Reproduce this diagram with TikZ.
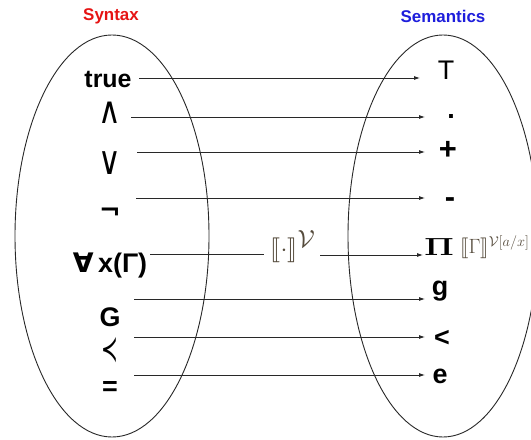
\documentclass[tikz,border=0pt]{standalone}
\usepackage[no-math]{fontspec}
\usepackage{stmaryrd}
\usepackage{bm}
\setmainfont{Liberation Sans}
\newfontfamily\dv{DejaVu Sans}
\usetikzlibrary{arrows.meta}
\definecolor{synred}{RGB}{230,20,20}
\definecolor{semblue}{RGB}{30,30,220}
\definecolor{brk}{RGB}{85,75,60}
\definecolor{ln}{RGB}{40,40,40}
\tikzset{
  sym/.style={inner sep=0pt, font=\bfseries\fontsize{27}{29}\selectfont},
  symthin/.style={inner sep=0pt, font=\dv\fontsize{27}{29}\selectfont},
  ttl/.style={inner sep=0pt, font=\bfseries\fontsize{17}{19}\selectfont},
  arr/.style={draw=ln, line width=0.8bp, -{Latex[length=6bp,width=4bp]}},
  plain/.style={draw=ln, line width=0.8bp},
  oval/.style={draw=ln, line width=0.9bp}
}
\begin{document}
\begin{tikzpicture}[x=1bp,y=-1bp]
\useasboundingbox (0,0) rectangle (531,440);
\clip (0,0) rectangle (531,440);
\fill[white] (0,0) rectangle (531,440);
% ovals
\draw[oval] (112,236) ellipse [x radius=97bp, y radius=201bp];
\draw[oval] (443,236) ellipse [x radius=95bp, y radius=201bp];
% titles
\node[ttl, text=synred] (syn) at (111,16) {Syntax};
\node[ttl, text=semblue] (sem) at (443,16) {Semantics};
% syntax items
\node[sym, font=\bfseries\fontsize{25}{27}\selectfont] (true) at (108,80) {true};
\node[symthin, font=\dv\fontsize{24}{26}\selectfont] (and) at (110,113) {\scalebox{1.3}[1.55]{∧}};
\node[symthin, font=\dv\fontsize{24}{26}\selectfont] (or) at (110,163) {\scalebox{1.3}[1.65]{∨}};
\node[sym, font=\dv\bfseries\fontsize{26}{28}\selectfont] (neg) at (110,214) {¬};
\node[sym] (forall) at (110,265) {{\dv\bfseries ∀}\,x(Γ)};
\node[sym] (G) at (110,317) {G};
\node[symthin] (prec) at (110,350) {\scalebox{0.75}[1.35]{≺}};
\node[sym] (eq) at (110,389) {=};
% semantics items
\node[inner sep=0pt, font=\fontsize{27}{29}\selectfont] (top) at (446,70) {T};
\node[sym] (dot) at (451,116) {.};
\node[sym, font=\bfseries\fontsize{31}{33}\selectfont] (plus) at (448,150) {+};
\node[sym, font=\bfseries\fontsize{31}{33}\selectfont] (minus) at (450,203) {-};
\node[inner sep=0pt, font=\fontsize{27}{29}\selectfont] (Pi) at (439,247) {\scalebox{1.35}[1]{$\bm{\Pi}$}};
\node[inner sep=0pt, anchor=west, text=brk, font=\fontsize{21}{23}\selectfont] (gam) at (460,247) {$\llbracket\Gamma\rrbracket^{\mathcal{V}[a/x]}$};
\node[sym] (g) at (440,291) {g};
\node[sym] (lt) at (442,338) {<};
\node[sym] (e) at (440,376) {e};
% mapping label
\node[inner sep=0pt, text=brk, font=\fontsize{34}{36}\selectfont] (map) at (293,247) {$\bm{\llbracket}\cdot\bm{\rrbracket}^{\mathcal{V}}$};
% connector end points
\coordinate (s1) at (139,78);  \coordinate (t1) at (420,78);
\coordinate (s2) at (131,117); \coordinate (t2) at (425,117);
\coordinate (s3) at (137,152); \coordinate (t3) at (425,152);
\coordinate (s4) at (136,198); \coordinate (t4) at (425,198);
\coordinate (s5) at (150,254); \coordinate (m5) at (264,254);
\coordinate (n5) at (320,255); \coordinate (t5) at (423,255);
\coordinate (s6) at (134,299); \coordinate (t6) at (425,299);
\coordinate (s7) at (134,337); \coordinate (t7) at (425,337);
\coordinate (s8) at (134,375); \coordinate (t8) at (425,375);
% connectors
\draw[arr] (s1) -- (t1);
\draw[arr] (s2) -- (t2);
\draw[arr] (s3) -- (t3);
\draw[arr] (s4) -- (t4);
\draw[plain] (s5) -- (m5);
\draw[arr] (n5) -- (t5);
\draw[arr] (s6) -- (t6);
\draw[arr] (s7) -- (t7);
\draw[arr] (s8) -- (t8);
\end{tikzpicture}
\end{document}
